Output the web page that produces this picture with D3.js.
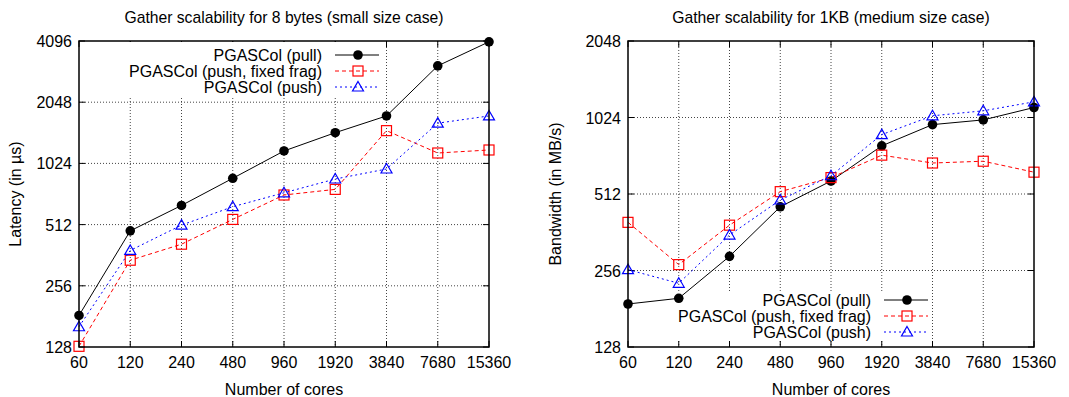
<!DOCTYPE html>
<html>
<head>
<meta charset="utf-8">
<script src="https://cdn.jsdelivr.net/npm/d3@7"></script>
<style>
  body { margin: 0; background: #fff; }
  svg text { font-family: "Liberation Sans", Arial, sans-serif; fill: #000; }
</style>
</head>
<body>
<div id="chart"></div>
<script>
// categories (number of cores) shared by both panels
const cores = [60, 120, 240, 480, 960, 1920, 3840, 7680, 15360];
const seriesNames = ["PGASCol (pull)", "PGASCol (push, fixed frag)", "PGASCol (push)"];

// small size case: latency in us
const latPull  = [183, 477, 636, 865, 1179, 1450, 1753, 3091, 4058];
const latFixed = [129, 342, 410, 543, 716, 763, 1484, 1152, 1192];
const latPush  = [161, 382, 509, 627, 734, 858, 961, 1615, 1753];
const latTicks = [128, 256, 512, 1024, 2048, 4096];

// medium size case: bandwidth in MB/s
const bwPull  = [189, 199, 291, 456, 576, 792, 960, 1002, 1121];
const bwFixed = [396, 270, 386, 523, 594, 728, 678, 689, 624];
const bwPush  = [258, 228, 353, 485, 604, 877, 1040, 1088, 1180];
const bwTicks = [128, 256, 512, 1024, 2048];

const W = 1069, H = 397;
const FS = 16;
const svg = d3.select("#chart").append("svg")
    .attr("width", W).attr("height", H);

const styles = [
  { color: "#000", dash: null, marker: "circle" },
  { color: "#ff0000", dash: "4,3", marker: "square" },
  { color: "#0000ff", dash: "2,3", marker: "triangle" }
];

function drawMarker(g, type, x, y, color) {
  if (type === "circle") {
    g.append("circle").attr("cx", x).attr("cy", y).attr("r", 4.8).attr("fill", color);
  } else if (type === "square") {
    g.append("rect").attr("x", x - 5).attr("y", y - 5).attr("width", 10).attr("height", 10)
      .attr("fill", "none").attr("stroke", color).attr("stroke-width", 1.2);
  } else {
    g.append("path").attr("d", `M${x},${y - 5.5}L${x + 5.5},${y + 4}L${x - 5.5},${y + 4}Z`)
      .attr("fill", "none").attr("stroke", color).attr("stroke-width", 1.2);
  }
}

function panel(cfg) {
  const g = svg.append("g");
  const x = d3.scalePoint().domain(cores).range([cfg.left, cfg.right]);
  const y = d3.scaleLog().base(2).domain([cfg.ticks[0], cfg.ticks[cfg.ticks.length - 1]])
      .range([cfg.bottom, cfg.top]);

  // grid
  const grid = g.append("g").attr("stroke", "#444").attr("stroke-width", 1).attr("stroke-dasharray", "1,2");
  cores.slice(1, -1).forEach(c => {
    grid.append("line").attr("x1", x(c)).attr("x2", x(c)).attr("y1", cfg.top).attr("y2", cfg.bottom);
  });
  cfg.ticks.slice(1, -1).forEach(t => {
    grid.append("line").attr("x1", cfg.left).attr("x2", cfg.right).attr("y1", y(t)).attr("y2", y(t));
  });

  // tick marks on all four sides
  const tk = g.append("g").attr("stroke", "#000").attr("stroke-width", 1);
  cores.forEach(c => {
    tk.append("line").attr("x1", x(c)).attr("x2", x(c)).attr("y1", cfg.bottom).attr("y2", cfg.bottom - 6);
    tk.append("line").attr("x1", x(c)).attr("x2", x(c)).attr("y1", cfg.top).attr("y2", cfg.top + 6);
  });
  cfg.ticks.forEach(t => {
    tk.append("line").attr("x1", cfg.left).attr("x2", cfg.left + 6).attr("y1", y(t)).attr("y2", y(t));
    tk.append("line").attr("x1", cfg.right).attr("x2", cfg.right - 6).attr("y1", y(t)).attr("y2", y(t));
  });

  // opaque key box
  g.append("rect").attr("x", cfg.key.x0).attr("y", cfg.key.y0)
    .attr("width", cfg.key.x1 - cfg.key.x0).attr("height", cfg.key.y1 - cfg.key.y0)
    .attr("fill", "#fff");

  // tick labels
  cores.forEach(c => {
    g.append("text").attr("x", x(c)).attr("y", cfg.bottom + 21).attr("text-anchor", "middle")
      .attr("font-size", FS).text(c);
  });
  cfg.ticks.forEach(t => {
    g.append("text").attr("x", cfg.left - 7).attr("y", y(t) + 6).attr("text-anchor", "end")
      .attr("font-size", FS).text(t);
  });

  // series
  const line = d3.line().x((d, i) => x(cores[i])).y(d => y(d));
  cfg.series.forEach((vals, si) => {
    const st = styles[si];
    g.append("path").attr("d", line(vals)).attr("fill", "none")
      .attr("stroke", st.color).attr("stroke-width", 1)
      .attr("stroke-dasharray", st.dash);
    vals.forEach((v, i) => drawMarker(g, st.marker, x(cores[i]), y(v), st.color));
  });

  // key entries
  seriesNames.forEach((name, si) => {
    const st = styles[si];
    const ky = cfg.key.row0 + si * 16;
    g.append("text").attr("x", cfg.key.textX).attr("y", ky + 6).attr("text-anchor", "end")
      .attr("font-size", FS).text(name);
    g.append("line").attr("x1", cfg.key.textX + 13).attr("x2", cfg.key.textX + 57)
      .attr("y1", ky).attr("y2", ky).attr("stroke", st.color).attr("stroke-width", 1)
      .attr("stroke-dasharray", st.dash);
    drawMarker(g, st.marker, cfg.key.textX + 36, ky, st.color);
  });

  // border
  g.append("rect").attr("x", cfg.left).attr("y", cfg.top)
    .attr("width", cfg.right - cfg.left).attr("height", cfg.bottom - cfg.top)
    .attr("fill", "none").attr("stroke", "#000").attr("stroke-width", 1.5);

  // titles
  const cx = (cfg.left + cfg.right) / 2;
  g.append("text").attr("x", cx).attr("y", 23).attr("text-anchor", "middle")
    .attr("font-size", 15.7).text(cfg.title);
  g.append("text").attr("x", cx).attr("y", 395).attr("text-anchor", "middle")
    .attr("font-size", FS).text("Number of cores");
  g.append("text").attr("transform", `translate(${cfg.ylabX},${(cfg.top + cfg.bottom) / 2}) rotate(-90)`)
    .attr("text-anchor", "middle").attr("font-size", FS).text(cfg.ylab);
}

panel({
  left: 79, right: 489, top: 41, bottom: 347,
  ticks: latTicks,
  series: [latPull, latFixed, latPush],
  title: "Gather scalability for 8 bytes (small size case)",
  ylab: "Latency (in µs)", ylabX: 21,
  key: { x0: 80, x1: 379, y0: 42, y1: 96, textX: 322, row0: 55 }
});

panel({
  left: 628, right: 1034, top: 41, bottom: 347,
  ticks: bwTicks,
  series: [bwPull, bwFixed, bwPush],
  title: "Gather scalability for 1KB (medium size case)",
  ylab: "Bandwidth (in MB/s)", ylabX: 561,
  key: { x0: 629, x1: 931, y0: 291, y1: 340, textX: 871, row0: 300 }
});
</script>
</body>
</html>
